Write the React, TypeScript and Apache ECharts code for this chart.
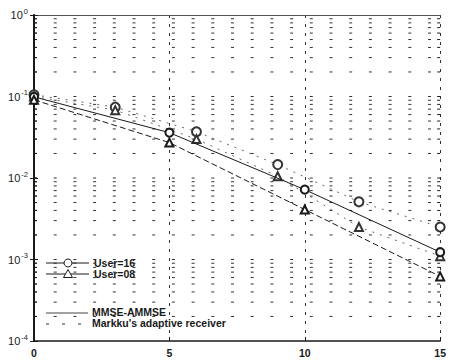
import React, { useEffect, useRef } from "react";
import * as echarts from "echarts";

// x positions and bit error rates
const xMmse = [0, 5, 10, 15];
const mmseUser16 = [0.099, 0.036, 0.0072, 0.00123];
const mmseUser08 = [0.091, 0.0272, 0.0041, 0.00062];
const xMarkku = [0, 3, 6, 9, 12, 15];
const markkuUser16 = [0.105, 0.074, 0.037, 0.0146, 0.0051, 0.0025];
const markkuUser08 = [0.1, 0.068, 0.03, 0.0105, 0.0025, 0.0011];
const xTicks = [0, 5, 10, 15];
const decades = [-4, -3, -2, -1, 0];
const legendUsers = ["User=16", "User=08"];
const legendMethods = ["MMSE-AMMSE", "Markku's adaptive receiver"];

const gridValues: number[] = [];
for (let d = -4; d < 0; d++) {
  for (let m = 1; m <= 9; m++) {
    if (d === -4 && m === 1) continue;
    gridValues.push(m * Math.pow(10, d));
  }
}

const pairs = (xs: number[], ys: number[]) => xs.map((x, i) => [x, ys[i]]);

export default function App() {
  const ref = useRef<HTMLDivElement>(null);
  useEffect(() => {
    if (!ref.current) return;
    const chart = echarts.init(ref.current, undefined, { renderer: "svg" });
    const ink = "#1a1a1a";
    const font = "'Liberation Sans', Arial, sans-serif";
    chart.setOption({
      animation: false,
      backgroundColor: "#ffffff",
      grid: { left: 34, top: 15, width: 412, height: 326, containLabel: false },
      xAxis: [
        {
          type: "value",
          min: 0,
          max: 15,
          interval: 5,
          axisLine: { show: true, lineStyle: { color: ink, width: 1.5 } },
          axisTick: { show: true, inside: true, length: 4, lineStyle: { color: ink } },
          axisLabel: {
            color: ink,
            fontFamily: font,
            fontSize: 10.5,
            fontWeight: "bold",
            margin: 6,
            formatter: (v: number) => (xTicks.includes(v) ? String(v) : ""),
          },
          splitLine: {
            show: true,
            lineStyle: { color: "#333", width: 1, type: [3, 6] },
          },
        },
        {
          type: "value",
          min: 0,
          max: 15,
          interval: 5,
          position: "top",
          axisLine: { show: true, lineStyle: { color: "#555", width: 1 } },
          axisTick: { show: false },
          axisLabel: { show: false },
          splitLine: { show: false },
        },
      ],
      yAxis: [
        {
          type: "log",
          logBase: 10,
          min: 1e-4,
          max: 1,
          axisLine: { show: true, lineStyle: { color: ink, width: 2 } },
          axisTick: { show: true, inside: true, length: 4, lineStyle: { color: ink } },
          axisLabel: {
            color: ink,
            fontFamily: font,
            margin: 6,
            formatter: (v: number) => {
              const e = Math.round(Math.log10(v));
              return decades.includes(e) ? `{b|10}{e|${e}}` : "";
            },
            rich: {
              b: { fontSize: 11, fontFamily: font, color: ink },
              e: { fontSize: 7.5, fontFamily: font, color: ink, padding: [0, 0, 8, 1] },
            },
          },
          splitLine: { show: false },
        },
        {
          type: "log",
          logBase: 10,
          min: 1e-4,
          max: 1,
          position: "right",
          axisLine: { show: true, lineStyle: { color: ink, width: 1.5 } },
          axisTick: { show: true, inside: true, length: 4, lineStyle: { color: ink } },
          axisLabel: { show: false },
          splitLine: { show: false },
        },
      ],
      series: [
        {
          type: "custom",
          name: "grid",
          silent: true,
          clip: false,
          z: 1,
          data: gridValues.map((v) => [0, v]),
          encode: { x: 0, y: 1 },
          renderItem: (params: any, api: any) => {
            const v = api.value(1);
            const p0 = api.coord([0, v]);
            const p1 = api.coord([15, v]);
            return {
              type: "group",
              children: [
                {
                  type: "line",
                  shape: { x1: p0[0], y1: p0[1], x2: p1[0], y2: p1[1] },
                  style: { stroke: "#333", lineWidth: 1, lineDash: [3, 16.7], lineDashOffset: 0.2 },
                },
                {
                  type: "line",
                  shape: { x1: p0[0], y1: p0[1], x2: p0[0] + 3, y2: p0[1] },
                  style: { stroke: ink, lineWidth: 1 },
                },
                {
                  type: "line",
                  shape: { x1: p1[0] - 3, y1: p1[1], x2: p1[0], y2: p1[1] },
                  style: { stroke: ink, lineWidth: 1 },
                },
              ],
            };
          },
        },
        {
          type: "line",
          name: "MMSE User=16",
          data: pairs(xMmse, mmseUser16),
          symbol: "emptyCircle",
          symbolSize: 8,
          z: 5,
          lineStyle: { color: ink, width: 1 },
          itemStyle: { color: ink, borderColor: ink, borderWidth: 1 },
        },
        {
          type: "line",
          name: "MMSE User=08",
          data: pairs(xMmse, mmseUser08),
          symbol: "emptyTriangle",
          symbolSize: 8,
          z: 5,
          lineStyle: { color: ink, width: 1, type: [6, 3] },
          itemStyle: { color: ink, borderColor: ink, borderWidth: 1 },
        },
        {
          type: "line",
          name: "Markku User=16",
          data: pairs(xMarkku, markkuUser16),
          symbol: "emptyCircle",
          symbolSize: 9,
          z: 4,
          lineStyle: { color: "#666", width: 1, type: [2, 6] },
          itemStyle: { color: "#333", borderColor: "#333", borderWidth: 1 },
        },
        {
          type: "line",
          name: "Markku User=08",
          data: pairs(xMarkku, markkuUser08),
          symbol: "emptyTriangle",
          symbolSize: 8,
          z: 4,
          lineStyle: { color: "#666", width: 1, type: [2, 6] },
          itemStyle: { color: "#333", borderColor: "#333", borderWidth: 1 },
        },
      ],
      graphic: [
        { type: "line", shape: { x1: 46, y1: 263, x2: 89, y2: 263 }, style: { stroke: ink, lineWidth: 1 } },
        { type: "circle", shape: { cx: 68, cy: 263, r: 4 }, style: { stroke: ink, fill: "#fff", lineWidth: 1 } },
        {
          type: "text",
          x: 94,
          y: 263,
          style: { text: legendUsers[0], fill: ink, font: `bold 10.5px ${font}`, verticalAlign: "middle" },
        },
        { type: "line", shape: { x1: 46, y1: 274, x2: 89, y2: 274 }, style: { stroke: ink, lineWidth: 1 } },
        {
          type: "polygon",
          shape: { points: [[68, 269.5], [72.5, 277.5], [63.5, 277.5]] },
          style: { stroke: ink, fill: "#fff", lineWidth: 1 },
        },
        {
          type: "text",
          x: 94,
          y: 274,
          style: { text: legendUsers[1], fill: ink, font: `bold 10.5px ${font}`, verticalAlign: "middle" },
        },
        { type: "line", shape: { x1: 46, y1: 313, x2: 88, y2: 313 }, style: { stroke: "#444", lineWidth: 1 } },
        {
          type: "text",
          x: 92,
          y: 312,
          style: { text: legendMethods[0], fill: ink, font: `bold 10.5px ${font}`, verticalAlign: "middle" },
        },
        {
          type: "line",
          shape: { x1: 46, y1: 324, x2: 88, y2: 324 },
          style: { stroke: "#333", lineWidth: 1, lineDash: [3, 13] },
        },
        {
          type: "text",
          x: 92,
          y: 323,
          style: { text: legendMethods[1], fill: ink, font: `bold 10.5px ${font}`, verticalAlign: "middle" },
        },
      ],
    });
    return () => chart.dispose();
  }, []);
  return (
    <div
      ref={ref}
      style={{ position: "fixed", left: 0, top: 0, width: 449, height: 360, background: "#fff" }}
    />
  );
}
